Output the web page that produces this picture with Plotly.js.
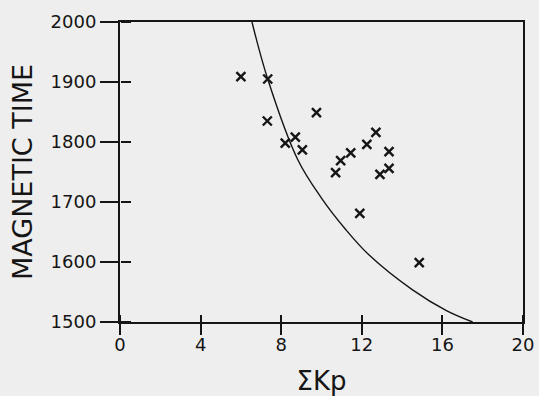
<!DOCTYPE html>
<html>
<head>
<meta charset="utf-8">
<script src="https://cdn.plot.ly/plotly-3.0.1.min.js"></script>
<style>html,body{margin:0;padding:0;background:#eeeeee;}#chart{width:539px;height:396px;}</style>
</head>
<body>
<div id="chart"></div>
<script>
// Scatter points (ΣKp, magnetic time)
const sumKp = [6.0, 7.33, 7.31, 9.75, 8.2, 8.7, 9.05, 10.95, 11.45, 10.7, 12.25, 12.7, 13.35, 12.9, 13.35, 11.9, 14.85];
const magTime = [1909, 1905, 1835, 1849, 1798, 1808, 1787, 1769, 1782, 1749, 1796, 1816, 1784, 1746, 1756, 1681, 1599];

// Boundary curve
const curveKp = [6.55, 7.33, 8.83, 9.99, 11.18, 12.35, 14.5, 16.2, 17.5];
const curveTime = [2000, 1905, 1770, 1707, 1655, 1612, 1554, 1519, 1500];

const xTicks = [0, 4, 8, 12, 16, 20];
const xTickText = ['0', '4', '8', '12', '16', '20'];
const yTicks = [1500, 1600, 1700, 1800, 1900, 2000];
const yTickText = ['1500', '1600', '1700', '1800', '1900', '2000'];

const font = 'DejaVu Sans, sans-serif';
const ink = '#151515';

const traces = [
  {
    x: sumKp, y: magTime, type: 'scatter', mode: 'markers',
    marker: {symbol: 'x-thin-open', size: 9, color: ink, line: {width: 2.4, color: ink}},
    xaxis: 'x', yaxis: 'y', hoverinfo: 'skip'
  },
  {
    x: curveKp, y: curveTime, type: 'scatter', mode: 'lines',
    line: {color: ink, width: 1.4, shape: 'spline', smoothing: 1},
    xaxis: 'x2', yaxis: 'y2', hoverinfo: 'skip'
  }
];

const layout = {
  width: 539, height: 396,
  margin: {l: 120, r: 16, t: 22, b: 74},
  paper_bgcolor: '#eeeeee', plot_bgcolor: '#eeeeee',
  showlegend: false,
  font: {family: font, color: ink},
  xaxis: {
    range: [0, 20], tickvals: xTicks, ticktext: xTickText,
    ticks: 'outside', ticklen: 11, tickwidth: 2, tickcolor: ink,
    ticklabelstandoff: -6,
    showline: true, linewidth: 2, linecolor: ink, mirror: true,
    showgrid: false, zeroline: false,
    tickfont: {family: font, size: 18, color: ink},
    title: {text: 'ΣKp', font: {family: font, size: 26, color: ink}, standoff: 18}
  },
  yaxis: {
    range: [1500, 2000], tickvals: yTicks, ticktext: yTickText,
    ticks: 'outside', ticklen: 18, tickwidth: 2, tickcolor: ink,
    showline: true, linewidth: 2, linecolor: ink, mirror: true,
    showgrid: false, zeroline: false,
    tickfont: {family: font, size: 18, color: ink},
    title: {text: 'MAGNETIC TIME', font: {family: font, size: 27, color: ink}, standoff: 10}
  },
  // companion axes: their outward ticks point into the plot, giving crossing ticks
  xaxis2: {
    range: [0, 20], tickvals: xTicks, overlaying: 'x', side: 'top', anchor: 'free', position: 0,
    ticks: 'outside', ticklen: 7, tickwidth: 2, tickcolor: ink,
    showticklabels: false, showline: false, showgrid: false, zeroline: false
  },
  yaxis2: {
    range: [1500, 2000], tickvals: yTicks, overlaying: 'y', side: 'right', anchor: 'free', position: 0,
    ticks: 'outside', ticklen: 10, tickwidth: 2, tickcolor: ink,
    showticklabels: false, showline: false, showgrid: false, zeroline: false
  }
};

Plotly.newPlot('chart', traces, layout, {staticPlot: true, displayModeBar: false});
</script>
</body>
</html>
